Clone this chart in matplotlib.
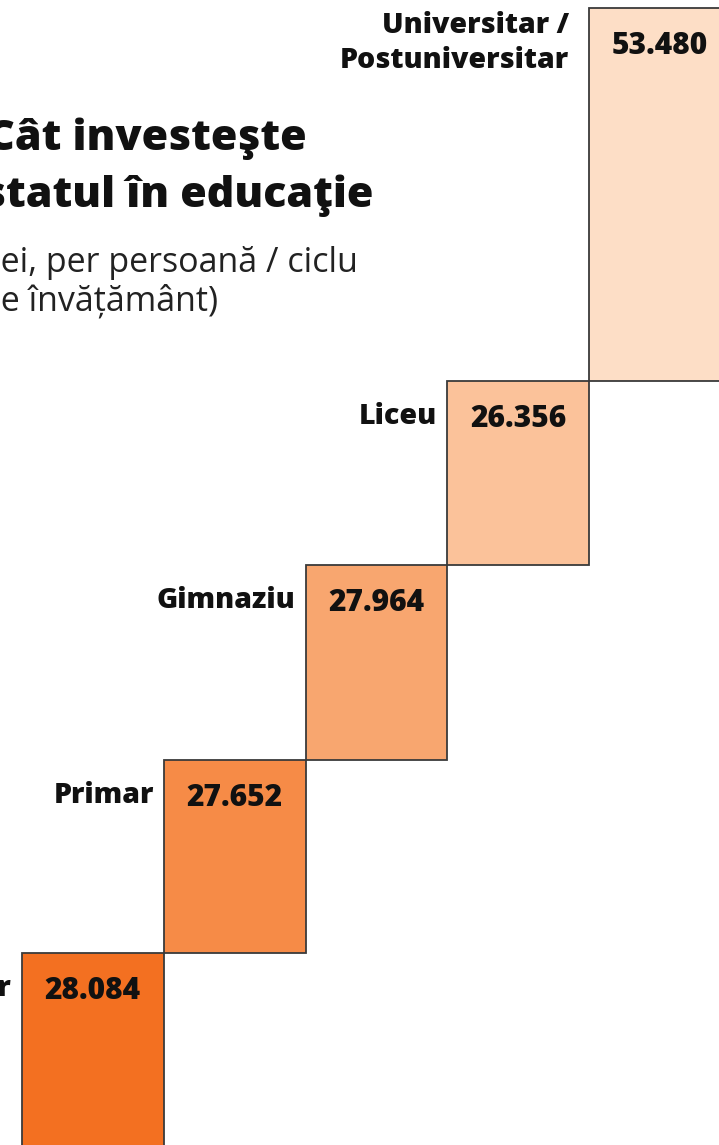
import numpy as np
import matplotlib
matplotlib.use("Agg")
import matplotlib.pyplot as plt

plt.rcParams['font.family'] = ['Open Sans', 'DejaVu Sans']

categories = ["Preșcolar", "Primar", "Gimnaziu", "Liceu", "Universitar /\nPostuniversitar"]
values = [28084, 27652, 27964, 26356, 53480]
value_labels = ["28.084", "27.652", "27.964", "26.356", "53.480"]
colors = ["#F37021", "#F68B47", "#F8A66F", "#FBC29A", "#FDDEC6"]

W, H = 719, 1145
fig = plt.figure(figsize=(W / 100, H / 100), dpi=100)
ax = fig.add_axes([0, 0, 1, 1])

vals = np.array(values, dtype=float)
bottoms = np.concatenate([[0], np.cumsum(vals)[:-1]])
tops = bottoms + vals
idx = np.arange(len(values))

ax.bar(idx, vals, bottom=bottoms, width=1.0, align='edge', color=colors,
       edgecolor='#3a3a3a', linewidth=1.3, zorder=2)

bw = 141.75
ax.set_xlim(-22 / bw, (W - 22) / bw)
lei_per_px = 143.4
top_total = tops[-1]
ax.set_ylim(top_total - (H - 8) * lei_per_px, top_total + 8 * lei_per_px)
ax.axis('off')

px = 0.72
n = len(categories)
for i, (cat, lab) in enumerate(zip(categories, value_labels)):
    last = (i == n - 1)
    gap = 20 if last else 10
    dy = 35 if last else 36
    ax.annotate(cat, xy=(i, tops[i]), xytext=(-gap * px, -dy * px),
                textcoords='offset points', ha='right', va='center',
                fontsize=20.5, fontweight='heavy', color='#111111',
                linespacing=1.3, multialignment='right')
    ax.annotate(lab, xy=(i + 0.5, tops[i]), xytext=(0, -38 * px),
                textcoords='offset points', ha='center', va='center',
                fontsize=21.5, fontweight='heavy', color='#111111')

def ftext(x, y, s, **kw):
    fig.text(x / W, 1 - y / H, s, **kw)

ftext(-13, 150, "Cât investeşte", fontsize=31, fontweight='heavy',
      color='#111111', ha='left', va='baseline')
ftext(-17, 207, "statul în educaţie", fontsize=31, fontweight='heavy',
      color='#111111', ha='left', va='baseline')
ftext(-18, 272, "(lei, per persoană / ciclu", fontsize=24.5,
      color='#222222', ha='left', va='baseline')
ftext(-20, 311, "de învățământ)", fontsize=24.5,
      color='#222222', ha='left', va='baseline')

fig.savefig("out.png", dpi=100)
